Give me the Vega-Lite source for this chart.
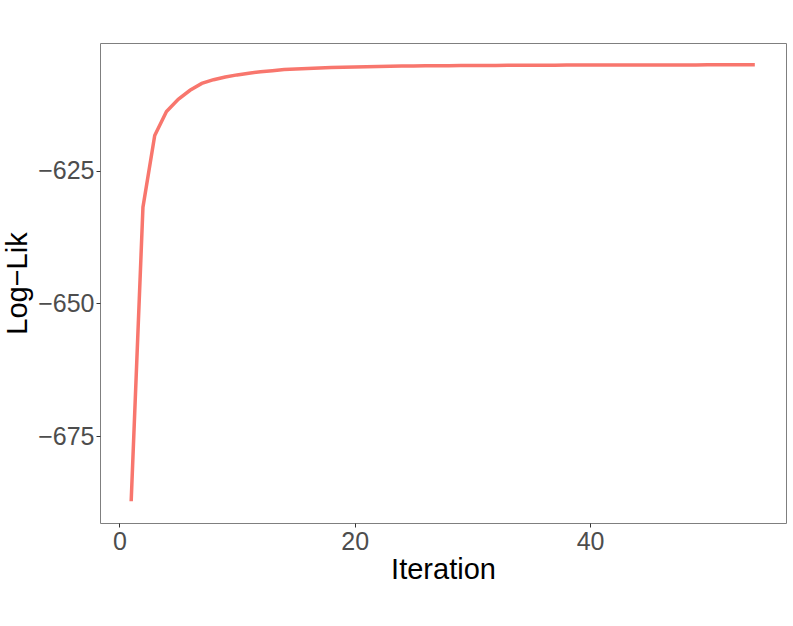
{
  "$schema": "https://vega.github.io/schema/vega-lite/v6.json",
  "width": 686,
  "height": 480,
  "autosize": {"type": "none"},
  "padding": {"left": 100, "top": 43, "right": 7, "bottom": 103},
  "background": "white",
  "config": {
    "view": {"stroke": "#7F7F7F", "strokeWidth": 1},
    "font": "Liberation Sans",
    "axis": {
      "grid": false,
      "domain": false,
      "tickColor": "#333333",
      "tickSize": 4,
      "tickWidth": 1,
      "labelFont": "Liberation Sans",
      "labelFontSize": 25,
      "labelColor": "#4D4D4D",
      "titleFont": "Liberation Sans",
      "titleFontSize": 29,
      "titleFontWeight": "normal",
      "titleColor": "#000000"
    }
  },
  "data": {
    "values": [
      {"iteration": 1, "loglik": -687.2},
      {"iteration": 2, "loglik": -631.9},
      {"iteration": 3, "loglik": -618.4},
      {"iteration": 4, "loglik": -613.9},
      {"iteration": 5, "loglik": -611.6},
      {"iteration": 6, "loglik": -609.9},
      {"iteration": 7, "loglik": -608.6},
      {"iteration": 8, "loglik": -607.9},
      {"iteration": 9, "loglik": -607.4},
      {"iteration": 10, "loglik": -607.0},
      {"iteration": 11, "loglik": -606.7},
      {"iteration": 12, "loglik": -606.4},
      {"iteration": 13, "loglik": -606.2},
      {"iteration": 14, "loglik": -606.0},
      {"iteration": 15, "loglik": -605.9},
      {"iteration": 16, "loglik": -605.8},
      {"iteration": 17, "loglik": -605.7},
      {"iteration": 18, "loglik": -605.62},
      {"iteration": 19, "loglik": -605.56},
      {"iteration": 20, "loglik": -605.5},
      {"iteration": 21, "loglik": -605.45},
      {"iteration": 22, "loglik": -605.41},
      {"iteration": 23, "loglik": -605.38},
      {"iteration": 24, "loglik": -605.35},
      {"iteration": 25, "loglik": -605.32},
      {"iteration": 26, "loglik": -605.3},
      {"iteration": 27, "loglik": -605.28},
      {"iteration": 28, "loglik": -605.26},
      {"iteration": 29, "loglik": -605.24},
      {"iteration": 30, "loglik": -605.23},
      {"iteration": 31, "loglik": -605.22},
      {"iteration": 32, "loglik": -605.21},
      {"iteration": 33, "loglik": -605.2},
      {"iteration": 34, "loglik": -605.19},
      {"iteration": 35, "loglik": -605.18},
      {"iteration": 36, "loglik": -605.17},
      {"iteration": 37, "loglik": -605.17},
      {"iteration": 38, "loglik": -605.16},
      {"iteration": 39, "loglik": -605.16},
      {"iteration": 40, "loglik": -605.15},
      {"iteration": 41, "loglik": -605.15},
      {"iteration": 42, "loglik": -605.14},
      {"iteration": 43, "loglik": -605.14},
      {"iteration": 44, "loglik": -605.13},
      {"iteration": 45, "loglik": -605.13},
      {"iteration": 46, "loglik": -605.13},
      {"iteration": 47, "loglik": -605.12},
      {"iteration": 48, "loglik": -605.12},
      {"iteration": 49, "loglik": -605.12},
      {"iteration": 50, "loglik": -605.11},
      {"iteration": 51, "loglik": -605.11},
      {"iteration": 52, "loglik": -605.11},
      {"iteration": 53, "loglik": -605.1},
      {"iteration": 54, "loglik": -605.1}
    ]
  },
  "mark": {"type": "line", "color": "#F8766D", "strokeWidth": 3.5},
  "encoding": {
    "x": {
      "field": "iteration",
      "type": "quantitative",
      "scale": {"domain": [-1.65, 56.65], "nice": false, "zero": false},
      "axis": {"values": [0, 20, 40], "title": "Iteration", "labelPadding": 2, "titlePadding": 1}
    },
    "y": {
      "field": "loglik",
      "type": "quantitative",
      "scale": {"domain": [-691.3, -601.0], "nice": false, "zero": false},
      "axis": {"values": [-675, -650, -625], "title": "Log−Lik", "labelPadding": 2, "titlePadding": 5}
    }
  }
}
